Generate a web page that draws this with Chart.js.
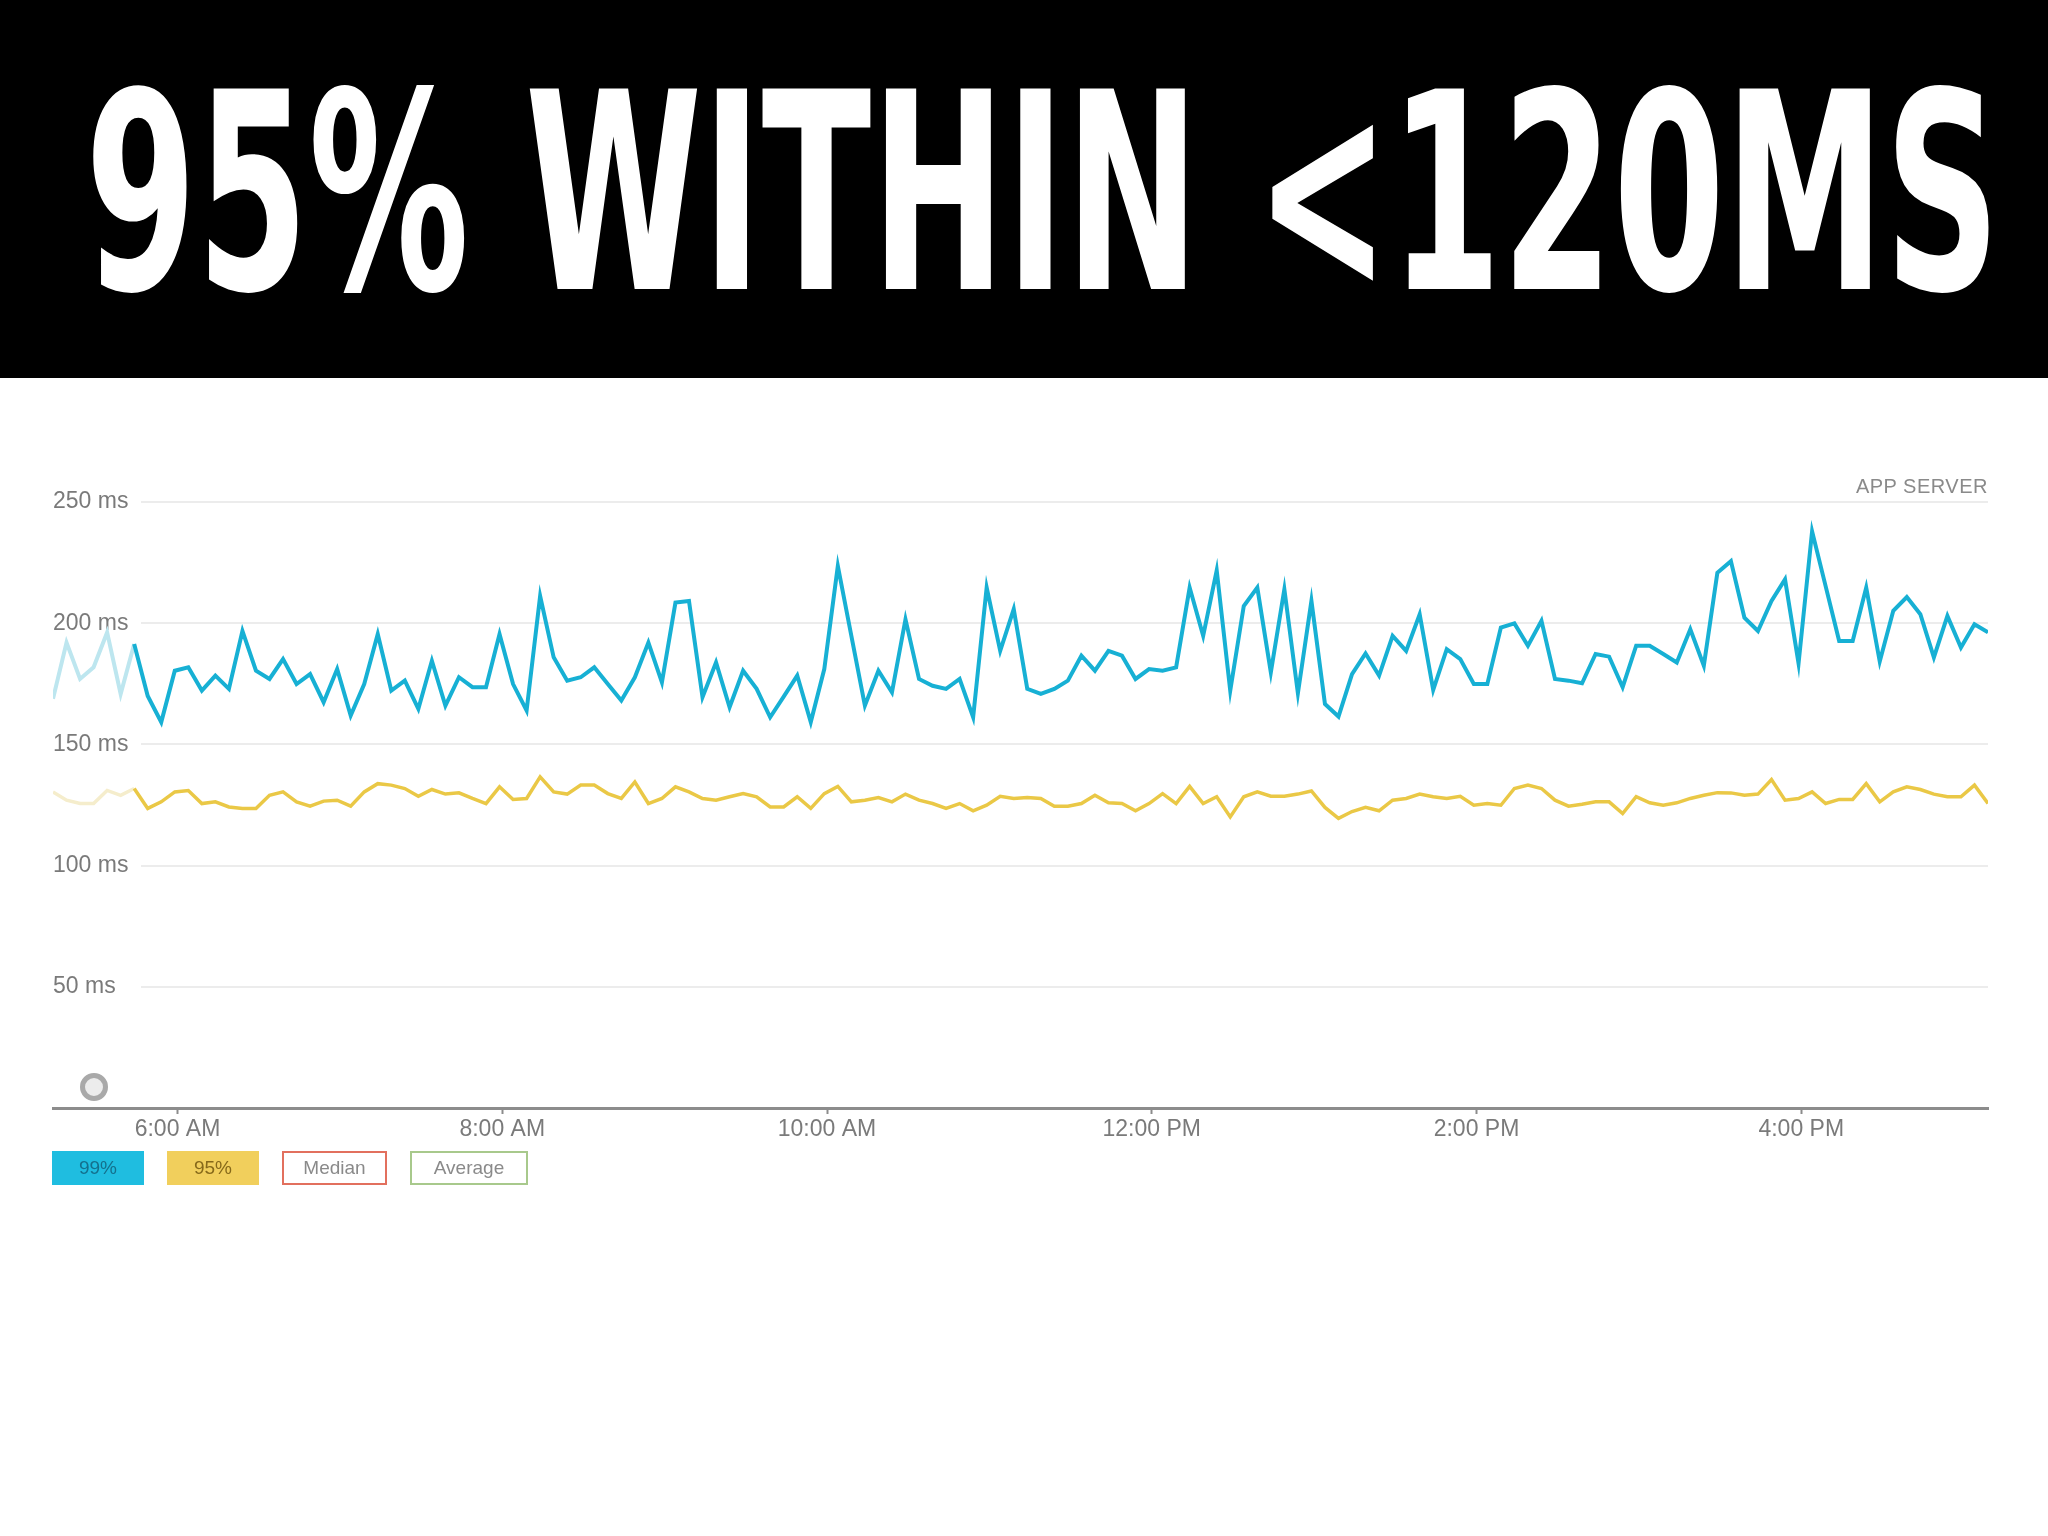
<!DOCTYPE html>
<html>
<head>
<meta charset="utf-8">
<script src="https://cdn.jsdelivr.net/npm/chart.js@4.4.1/dist/chart.umd.min.js"></script>
<style>
  html, body { margin: 0; padding: 0; background: #fff; }
  body { width: 2048px; height: 1536px; position: relative; overflow: hidden; font-family: "Liberation Sans", Arial, sans-serif; }
  #banner { position: absolute; left: 0; top: 0; width: 2048px; height: 378px; background: #000; overflow: hidden; }
  #title { position: absolute; left: 85px; top: 57px; font-family: "DejaVu Sans Condensed", "DejaVu Sans", sans-serif;
           font-weight: bold; font-size: 275px; line-height: 275px; color: #fff; white-space: nowrap; transform-origin: 0 0; }
  #chartBox { position: absolute; left: 0; top: 440px; width: 2048px; height: 718px; }
  #appServer { position: absolute; right: 60px; top: 476px; font-size: 20px; line-height: 20px; color: #8a8a8a; letter-spacing: 0.5px; }
  #ring { position: absolute; left: 80px; top: 1073px; width: 28px; height: 28px; box-sizing: border-box;
          border: 5px solid #a9a9a9; background: #ececec; border-radius: 50%; }
  .lg { position: absolute; top: 1151px; height: 34px; line-height: 30px; box-sizing: border-box; border: 2px solid;
        text-align: center; font-size: 19px; }
</style>
</head>
<body>
<div id="banner"><div id="title">95% WITHIN &lt;120MS</div></div>
<div id="chartBox"><canvas id="latencyChart"></canvas></div>
<div id="appServer">APP SERVER</div>
<div id="ring"></div>
<div class="lg" style="left:52px;width:92px;background:#1fbde0;border-color:#1fbde0;color:#14708d;">99%</div>
<div class="lg" style="left:167px;width:92px;background:#f1cf5c;border-color:#f1cf5c;color:#86691a;">95%</div>
<div class="lg" style="left:282px;width:105px;background:#fff;border-color:#e2705e;color:#8a8a8a;">Median</div>
<div class="lg" style="left:410px;width:118px;background:#fff;border-color:#a8c98c;color:#8a8a8a;">Average</div>
<script>
// 5-minute samples starting at 5:14 AM (minutes since midnight)
const startMinute = 314;
const stepMinutes = 5;
const fadeCount = 7; // first samples drawn washed out

const p99 = [
  168.8, 192, 177, 181.8, 196.2, 170.8, 191.4, 170, 159.2, 180.4,
  181.8, 172.2, 178.4, 172.9, 196.8, 180.4, 177, 185.2, 174.9, 179,
  167.4, 181.1, 161.9, 174.9, 195.5, 172.2, 176.3, 164.7, 184.5, 166,
  177.7, 173.6, 173.6, 195.5, 174.9, 164, 211.2, 185.9, 176.3, 177.7,
  181.8, 174.9, 168.1, 177.7, 192, 175.6, 208.5, 209.2, 169.5, 183.8,
  165.3, 180.4, 172.9, 161.2, 169.7, 178.4, 159.2, 181.1, 223.6, 194.8,
  166, 180.4, 171.5, 201.6, 177, 174.2, 172.9, 177, 161.2, 214.7,
  188.6, 205.8, 172.9, 170.8, 172.9, 176.3, 186.6, 180.4, 188.6, 186.6,
  177, 181.1, 180.4, 181.8, 214.7, 194.8, 221.8, 172.2, 207.1, 214.7,
  179.7, 214, 171.1, 209.2, 166.7, 161.5, 179, 187.5, 178.4, 194.8,
  188.6, 203.7, 172.5, 189.3, 185.2, 174.9, 174.9, 198.2, 199.9, 190.7,
  201, 177, 176.3, 175.2, 187.3, 186.2, 173.6, 190.7, 190.7, 187.3,
  183.8, 197.5, 182.5, 220.8, 225.6, 202.3, 196.8, 209.2, 218.1, 183.4,
  237.9, 215.3, 192.7, 192.7, 214.7, 184.2, 205.1, 210.8, 203.7, 185.9,
  203, 190, 199.6, 196.2
];

const p95 = [
  130.4, 127, 125.6, 125.6, 131, 129, 131.8, 123.6, 126.3, 130.4,
  131, 125.6, 126.3, 124.2, 123.6, 123.6, 129, 130.4, 126.3, 124.5,
  126.6, 127, 124.5, 130.4, 133.8, 133.2, 131.8, 128.6, 131.4, 129.5,
  130, 127.7, 125.6, 132.5, 127.3, 127.7, 136.6, 130.4, 129.5, 133.2,
  133.2, 129.7, 127.7, 134.5, 125.6, 127.7, 132.5, 130.4, 127.7, 127,
  128.4, 129.7, 128.4, 124.2, 124.2, 128.4, 123.6, 129.7, 132.7, 126.3,
  127, 128.1, 126.3, 129.5, 127, 125.6, 123.6, 125.6, 122.6, 124.9,
  128.6, 127.7, 128.1, 127.7, 124.5, 124.5, 125.6, 129, 125.9, 125.6,
  122.6, 125.6, 129.7, 125.6, 132.7, 125.6, 128.4, 120.1, 128.4, 130.4,
  128.6, 128.6, 129.5, 130.8, 124, 119.5, 122.3, 124, 122.6, 127,
  127.7, 129.5, 128.4, 127.7, 128.6, 124.9, 125.6, 124.9, 131.8, 133.2,
  131.8, 127, 124.5, 125.3, 126.3, 126.3, 121.5, 128.4, 125.9, 124.9,
  125.9, 127.7, 129, 130.1, 130, 129, 129.5, 135.5, 127, 127.7,
  130.4, 125.6, 127.3, 127.3, 133.8, 126.3, 130.4, 132.5, 131.4, 129.5,
  128.4, 128.4, 133.2, 125.6
];

const xTickMinutes = [360, 480, 600, 720, 840, 960];
const yTickValues = [50, 100, 150, 200, 250];

const times = p99.map((_, i) => startMinute + i * stepMinutes);

function fmtTime(m) {
  const h = Math.floor(m / 60);
  const mm = String(m % 60).padStart(2, '0');
  const h12 = h % 12 === 0 ? 12 : h % 12;
  return h12 + ':' + mm + (h < 12 ? ' AM' : ' PM');
}

const labelFont = { family: '"Liberation Sans", Arial, sans-serif', size: 23 };

function series(values, color, faded, width) {
  return {
    data: values.map((v, i) => ({ x: times[i], y: v })),
    borderColor: color,
    borderWidth: width,
    pointRadius: 0,
    tension: 0,
    segment: {
      borderColor: c => c.p0DataIndex < fadeCount - 1 ? faded : color
    }
  };
}

// horizontal gridlines start to the right of the in-plot labels
const gridStartX = 141;
const shortGrid = {
  id: 'shortGrid',
  beforeDatasetsDraw(chart) {
    const y = chart.scales.y;
    const c = chart.ctx;
    c.save();
    c.strokeStyle = '#ececec';
    c.lineWidth = 2;
    yTickValues.forEach(v => {
      const py = Math.round(y.getPixelForValue(v));
      c.beginPath();
      c.moveTo(gridStartX, py);
      c.lineTo(chart.chartArea.right, py);
      c.stroke();
    });
    c.restore();
  }
};

const ctx = document.getElementById('latencyChart').getContext('2d');

const latencyChart = new Chart(ctx, {
  type: 'line',
  data: {
    datasets: [
      series(p99, '#17b0d4', '#bde6ef', 4),
      series(p95, '#eac846', '#f5edcc', 3.5)
    ]
  },
  options: {
    responsive: true,
    maintainAspectRatio: false,
    animation: false,
    layout: { padding: { left: 53, right: 60, top: 62, bottom: 0 } },
    plugins: {
      legend: { display: false },
      tooltip: { enabled: false }
    },
    scales: {
      x: {
        type: 'linear',
        min: startMinute,
        max: startMinute + (p99.length - 1) * stepMinutes,
        afterBuildTicks: s => { s.ticks = xTickMinutes.map(v => ({ value: v })); },
        afterFit: s => { s.height = 50; },
        grid: { drawOnChartArea: false, drawTicks: true, tickLength: 6, tickColor: '#8c8c8c', tickWidth: 2 },
        border: { display: true, color: '#8c8c8c', width: 3 },
        ticks: {
          color: '#7a7a7a', font: labelFont, padding: 2, maxRotation: 0, autoSkip: false,
          callback: v => fmtTime(v)
        }
      },
      y: {
        min: 0,
        max: 250,
        afterBuildTicks: s => { s.ticks = yTickValues.map(v => ({ value: v })); },
        afterFit: s => { s.width = 0; },
        grid: { display: false },
        border: { display: false },
        ticks: {
          mirror: true, padding: 0, color: '#7a7a7a', font: labelFont,
          callback: v => v + ' ms'
        }
      }
    }
  },
  plugins: [shortGrid]
});

// stretch the banner title to the width it has in the picture
const title = document.getElementById('title');
const sx = 1915 / title.offsetWidth;
title.style.transform = 'scaleX(' + sx + ')';
</script>
</body>
</html>
